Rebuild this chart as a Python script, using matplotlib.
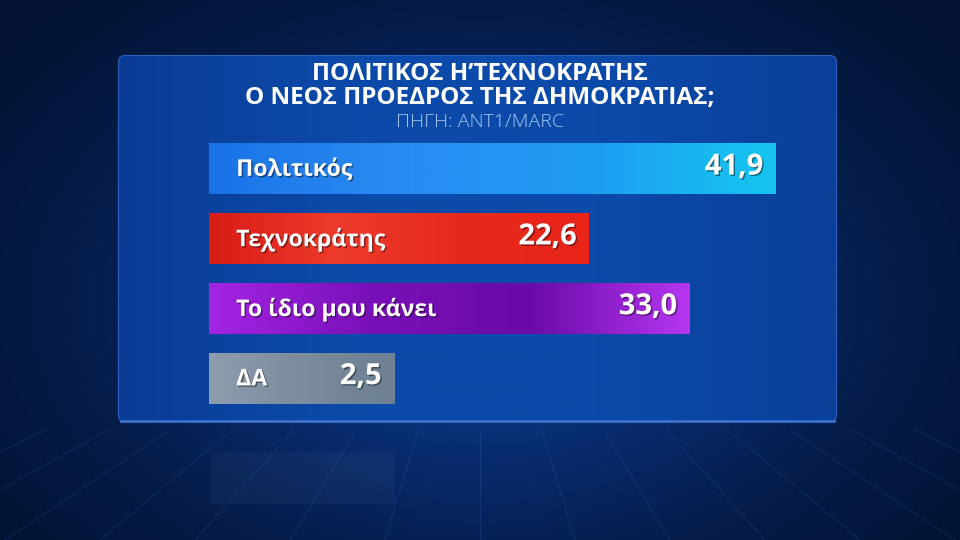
import numpy as np
import matplotlib.pyplot as plt
from matplotlib.patches import FancyBboxPatch, Rectangle
from matplotlib.colors import LinearSegmentedColormap
import matplotlib.patheffects as pe

plt.rcParams['font.family'] = ['Open Sans', 'DejaVu Sans']

# data
categories = ['Πολιτικός', 'Τεχνοκράτης', 'Το ίδιο μου κάνει', 'ΔΑ']
values = [41.9, 22.6, 33.0, 2.5]
value_labels = ['41,9', '22,6', '33,0', '2,5']
title_lines = ['ΠΟΛΙΤΙΚΟΣ Η\u02BCΤΕΧΝΟΚΡΑΤΗΣ', 'Ο ΝΕΟΣ ΠΡΟΕΔΡΟΣ ΤΗΣ ΔΗΜΟΚΡΑΤΙΑΣ;']
source = 'ΠΗΓΗ: ANT1/MARC'

bar_colors = [
    ['#1a72e6', '#2a8cf2', '#1e9cf2', '#16c6f0'],
    ['#d81c16', '#ee3a2c', '#e42a1c', '#ea2418'],
    ['#a424e4', '#7a10b8', '#6a0aa8', '#b636f0'],
    ['#8e9eae', '#8292a2', '#76879a', '#6e8094'],
]

# label area at the start of each bar, in value units
label_pad = 16.6

fig = plt.figure(figsize=(9.6, 5.4), dpi=100)

# background
bg = fig.add_axes([0, 0, 1, 1])
bg.set_xlim(0, 960)
bg.set_ylim(540, 0)
bg.axis('off')
yy, xx = np.mgrid[0:540, 0:960]
r = np.sqrt(((xx - 480) / 620.0) ** 2 + ((yy - 300) / 420.0) ** 2)
bg_cmap = LinearSegmentedColormap.from_list('bg', ['#0b3c92', '#082e74', '#051c48', '#031230'])
bg.imshow(np.clip(r, 0, 1), cmap=bg_cmap, extent=(0, 960, 540, 0), aspect='auto', zorder=0)

# floor grid lines
for k in range(-9, 10):
    x_top = 480 + k * 62
    x_bot = 480 + k * 95
    bg.plot([x_top, x_bot], [430, 540], color='#3d6fc4', lw=0.6, alpha=0.25, zorder=1)

# panel
panel = FancyBboxPatch((119, 56), 717, 365, boxstyle='round,pad=0,rounding_size=6',
                       facecolor='#0b45a4', edgecolor='#2c62c0', lw=1.5, zorder=2)
bg.add_patch(panel)
pg = np.linspace(0, 1, 256).reshape(1, -1)
pcmap = LinearSegmentedColormap.from_list('pn', ['#0a3c96', '#0c4aaa', '#0c4aaa', '#0a3f9a'])
im = bg.imshow(pg, cmap=pcmap, extent=(119, 836, 421, 56), aspect='auto', zorder=2)
im.set_clip_path(panel)
bg.plot([121, 834], [421, 421], color='#3a70d0', lw=2, zorder=3)

# reflection of the last bar on the floor
bg.add_patch(Rectangle((211, 452), 184, 52, facecolor='#6f88a8', alpha=0.08, zorder=1))

# titles
for i, line in enumerate(title_lines):
    bg.text(480, 74 + i * 24, line, ha='center', va='center', color='white',
            fontsize=17.5, fontweight='bold', zorder=5)
bg.text(480, 122, source, ha='center', va='center', color='#a9c6ee',
        fontsize=14, fontweight='light', zorder=5)

# bars
ax = fig.add_axes([209 / 960, 1 - 413 / 540, (838 - 209) / 960, 279.5 / 540])
ax.set_xlim(-label_pad, (838 - 370) / 9.69)
ax.set_ylim(3.5, -0.5)
ax.axis('off')
ax.patch.set_alpha(0)

y = np.arange(len(categories))
bars = ax.barh(y, [v + label_pad for v in values], left=-label_pad, height=0.73,
               color=[c[0] for c in bar_colors], edgecolor='none', zorder=2)

shadow = [pe.withSimplePatchShadow(offset=(1, -1), shadow_rgbFace='black', alpha=0.45)]
for b, cols, cat, lab in zip(bars, bar_colors, categories, value_labels):
    x0, y0, w, h = b.get_x(), b.get_y(), b.get_width(), b.get_height()
    cmap = LinearSegmentedColormap.from_list('g', cols)
    g = ax.imshow(pg, cmap=cmap, extent=(x0, x0 + w, y0 + h, y0), aspect='auto', zorder=3)
    g.set_clip_path(b)
    ax.text(x0 + 2.8, y0 + h / 2 + 0.02, cat, ha='left', va='center', color='white',
            fontsize=16.6, fontweight='bold', zorder=4, path_effects=shadow)
    ax.text(x0 + w - 1.3, y0 + h / 2 - 0.02, lab, ha='right', va='center', color='white',
            fontsize=21, fontweight='bold', zorder=4, path_effects=shadow)

fig.savefig('out.png', dpi=100)
